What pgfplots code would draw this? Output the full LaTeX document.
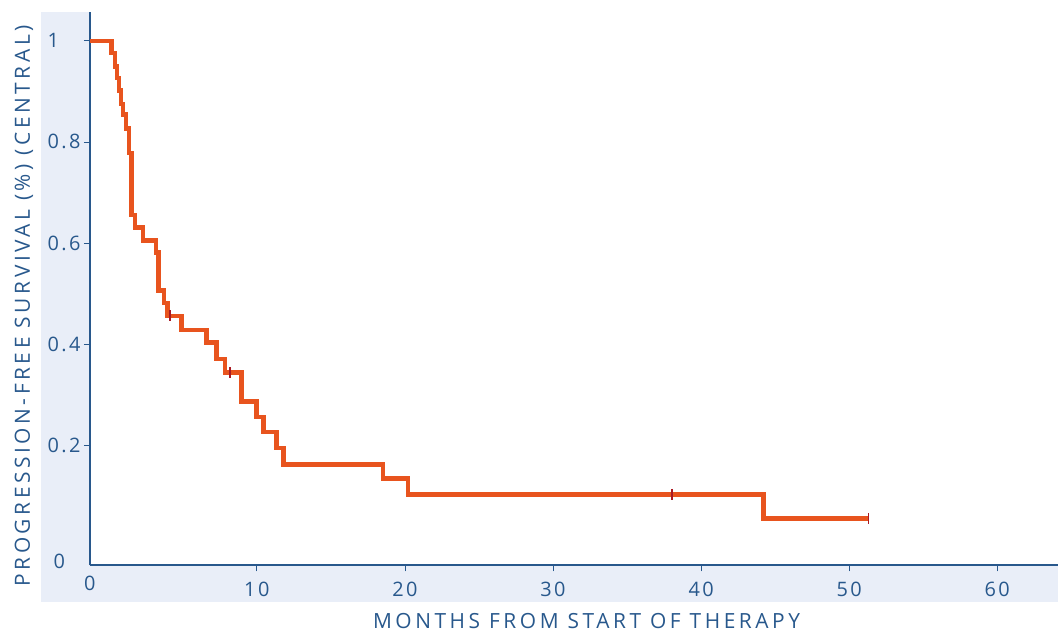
\documentclass[border=0pt]{standalone}
\usepackage{fontspec}
\setmainfont{Open Sans}
\newfontfamily\labfont[LetterSpace=17]{Open Sans}
\newfontfamily\tickfont[LetterSpace=12]{Open Sans}
\usepackage{pgfplots}
\pgfplotsset{compat=1.18}
\definecolor{txtblue}{RGB}{40,88,140}
\definecolor{band}{RGB}{233,238,248}
\definecolor{curve}{RGB}{232,84,30}
\definecolor{cens}{RGB}{170,25,35}
\begin{document}
\begin{tikzpicture}
\path (0bp,0bp) rectangle (1059bp,633bp);
\fill[band] (41bp,30bp) rectangle (1059bp,621bp);
\fill[white] (90bp,67bp) rectangle (1059bp,633bp);
\begin{axis}[
  at={(90bp,67bp)}, anchor=south west,
  scale only axis, width=969bp, height=554bp,
  xmin=-1.27, xmax=64.1, ymin=-0.0375, ymax=1.057,
  axis lines=left,
  axis line style={-, line width=2bp, color=txtblue},
  xtick={10,20,30,40,50,60},
  ytick={0.2,0.4,0.6,0.8,1},
  yticklabels={0.2,0.4,0.6,0.8,1},
  extra x ticks={-1.27}, extra x tick labels={0},
  extra y ticks={-0.0375}, extra y tick labels={0},
  extra tick style={major tick length=0pt, yticklabel style={yshift=4bp}},
  tick align=outside, major tick length=6bp,
  tick style={line width=0.8bp, color=txtblue},
  /pgf/number format/assume math mode=true,
  ticklabel style={font=\tickfont\fontsize{20}{24}\selectfont, text=txtblue},
  yticklabel style={anchor=base west, inner sep=0pt, xshift=-36.5bp, yshift=-7bp},
  xticklabel style={anchor=north, inner sep=0pt, yshift=-10bp},
  xlabel={MONTHS FROM START OF THERAPY},
  ylabel={PROGRESSION-FREE SURVIVAL (\%) (CENTRAL)},
  label style={font=\labfont\fontsize{21}{25}\selectfont, text=txtblue, inner sep=0pt},
  xlabel style={at={(axis description cs:0.513,0)}, anchor=base, yshift=-63bp},
  ylabel style={at={(axis description cs:0,0.469)}, anchor=base, yshift=60bp},
  clip=false,
]
\addplot[const plot, color=curve, line width=4.5bp] coordinates {
(-1.27,1.000)
(0.20,0.976)
(0.42,0.949)
(0.57,0.926)
(0.71,0.902)
(0.84,0.875)
(0.98,0.854)
(1.16,0.827)
(1.38,0.778)
(1.55,0.656)
(1.77,0.631)
(2.33,0.605)
(3.18,0.581)
(3.35,0.506)
(3.72,0.482)
(3.96,0.456)
(4.92,0.428)
(6.61,0.403)
(7.28,0.371)
(7.84,0.344)
(8.97,0.287)
(9.98,0.256)
(10.45,0.226)
(11.33,0.195)
(11.79,0.162)
(18.52,0.134)
(20.22,0.103)
(44.21,0.055)
(51.30,0.055)
};
\addplot[only marks, mark=|, mark size=5.5bp, color=cens, mark options={line width=1.6bp}] coordinates {
(4.12,0.456) (8.18,0.344) (38.02,0.103) (51.30,0.055)
};
\end{axis}
\end{tikzpicture}
\end{document}
